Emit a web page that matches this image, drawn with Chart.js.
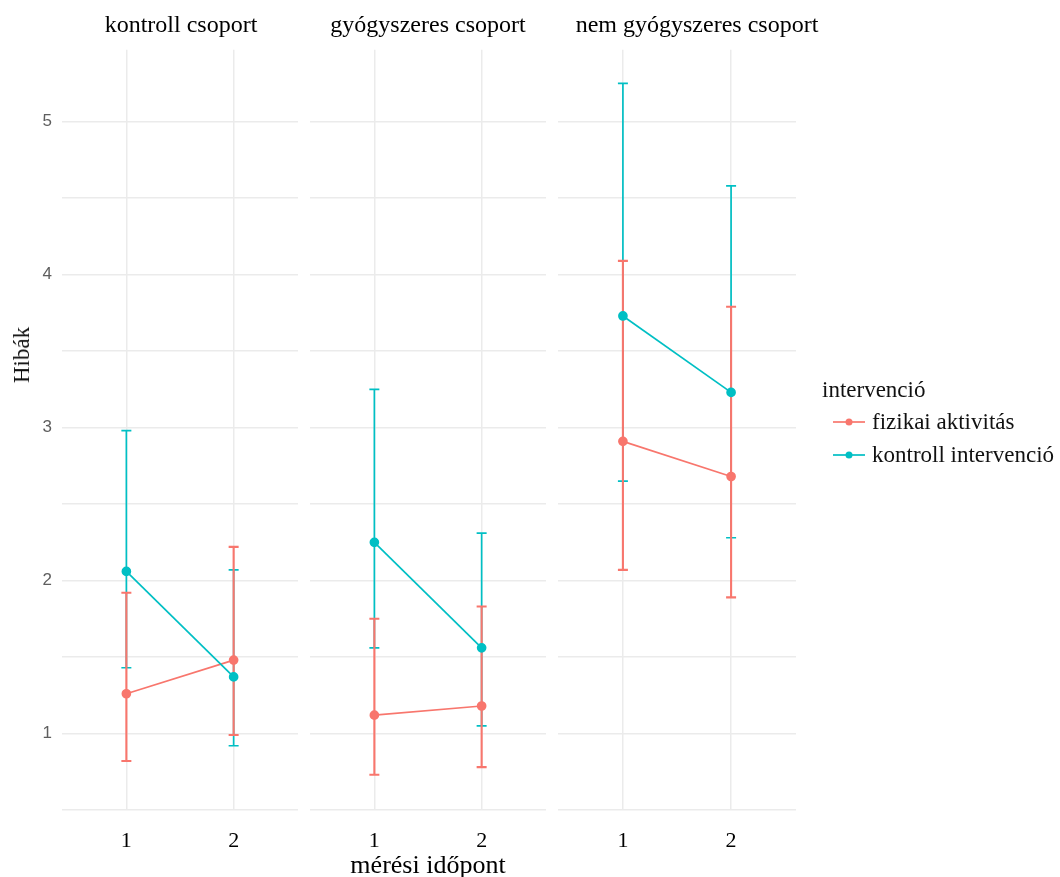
<!DOCTYPE html>
<html>
<head>
<meta charset="utf-8">
<script src="https://cdn.jsdelivr.net/npm/chart.js@4.4.0/dist/chart.umd.min.js"></script>
<style>
  body { margin: 0; background: #fff; }
  #wrap { position: relative; width: 1060px; height: 877px; overflow: hidden; }
  #wrap canvas { position: absolute; top: 0; }
  #legend { position: absolute; left: 822px; top: 375px; font-family: "Liberation Serif", serif; font-size: 23px; color: #111; }
  #legend .ttl { height: 30px; line-height: 30px; }
  #legend .item { height: 33px; display: flex; align-items: center; margin-left: 10px; }
  #legend svg { margin-right: 6px; }
  #ytitle { position: absolute; left: 22px; top: 355px; transform: translate(-50%, -50%) rotate(-90deg);
            font-family: "Liberation Serif", serif; font-size: 23px; color: #111; white-space: nowrap; }
</style>
</head>
<body>
<div id="wrap">
  <canvas id="p0" width="362" height="877" style="left:0px"></canvas>
  <canvas id="p1" width="236" height="877" style="left:310px"></canvas>
  <canvas id="p2" width="278" height="877" style="left:558px"></canvas>
  <div id="ytitle">Hibák</div>
  <div id="legend"></div>
</div>
<script>
// facets, time points, axis ticks
const panels = ['kontroll csoport', 'gyógyszeres csoport', 'nem gyógyszeres csoport'];
const timepoints = [1, 2];
const yTicks = [1, 2, 3, 4, 5];
const yGrid = [0.5, 1, 1.5, 2, 2.5, 3, 3.5, 4, 4.5, 5];

const seriesNames = ['fizikai aktivitás', 'kontroll intervenció'];
const seriesColors = ['#F8766D', '#00BFC4'];

// fizikai aktivitás: mean, lower, upper (one row per panel, one value per time point)
const fizMean = [[1.26, 1.48], [1.12, 1.18], [2.91, 2.68]];
const fizLow  = [[0.82, 0.99], [0.73, 0.78], [2.07, 1.89]];
const fizHigh = [[1.92, 2.22], [1.75, 1.83], [4.09, 3.79]];

// kontroll intervenció
const konMean = [[2.06, 1.37], [2.25, 1.56], [3.73, 3.23]];
const konLow  = [[1.43, 0.92], [1.56, 1.05], [2.65, 2.28]];
const konHigh = [[2.98, 2.07], [3.25, 2.31], [5.25, 4.58]];

const GRID = '#ebebeb';
const SERIF = '"Liberation Serif", serif';
// left axis width and spare room on the right of each panel (keeps strip titles where they are)
const leftW = [62, 0, 0];
const rightW = [64, 0, 40];

function meanData(arr) {
    return timepoints.map((t, i) => ({ x: t, y: arr[i] }));
}

function barData(lo, hi) {
    const out = [];
    timepoints.forEach((t, i) => {
        out.push({ x: t, y: lo[i] }, { x: t, y: hi[i] }, { x: t + 0.5, y: null });
    });
    return out;
}

function makePanel(id, p) {
    const ctx = document.getElementById(id).getContext('2d');
    // red bars are a bit wider so they cover the teal ones where both overlap
    const errStyle = (c, w, ord) => ({
        borderColor: c, backgroundColor: c, borderWidth: w,
        pointStyle: 'line', pointRadius: 5, pointBorderWidth: w,
        pointBorderColor: c, spanGaps: false, order: ord
    });
    return new Chart(ctx, {
        type: 'line',
        data: {
            datasets: [
                { label: seriesNames[1], data: meanData(konMean[p]), borderColor: seriesColors[1],
                  backgroundColor: seriesColors[1], borderWidth: 1.7, pointRadius: 4, order: 0 },
                { label: seriesNames[0], data: meanData(fizMean[p]), borderColor: seriesColors[0],
                  backgroundColor: seriesColors[0], borderWidth: 1.7, pointRadius: 4, order: 1 },
                Object.assign({ label: 'fiz err', data: barData(fizLow[p], fizHigh[p]) }, errStyle(seriesColors[0], 2.1, 2)),
                Object.assign({ label: 'kon err', data: barData(konLow[p], konHigh[p]) }, errStyle(seriesColors[1], 1.7, 3))
            ]
        },
        options: {
            responsive: false,
            animation: false,
            events: [],
            layout: { padding: 0, autoPadding: false },
            plugins: {
                legend: { display: false },
                tooltip: { enabled: false },
                title: { display: true, text: panels[p], color: '#000',
                         font: { family: SERIF, size: 24, weight: 'normal' },
                         padding: { top: 11, bottom: 10 } }
            },
            scales: {
                x: {
                    type: 'linear', position: 'bottom', min: 0.4, max: 2.6,
                    afterBuildTicks: s => { s.ticks = timepoints.map(v => ({ value: v })); },
                    afterFit: s => { s.height = 67; },
                    grid: { color: GRID, lineWidth: 1.5, drawTicks: false },
                    border: { display: false },
                    ticks: { font: { family: SERIF, size: 22 }, color: '#000', padding: 18, maxRotation: 0 },
                    title: { display: p === 1, text: 'mérési időpont', font: { family: SERIF, size: 26 },
                             color: '#000', padding: { top: 0, bottom: -5 } }
                },
                y: {
                    type: 'linear', min: 0.5, max: 5.47,
                    afterBuildTicks: s => { s.ticks = yGrid.map(v => ({ value: v })); },
                    afterFit: s => { s.width = leftW[p]; },
                    grid: { color: GRID, lineWidth: 1.5, drawTicks: false },
                    border: { display: false },
                    ticks: {
                        display: p === 0,
                        font: { family: '"Liberation Sans", sans-serif', size: 17 },
                        color: '#5e5e5e', padding: 10,
                        callback: v => yTicks.includes(v) ? String(v) : ''
                    }
                },
                spare: {
                    type: 'linear', position: 'right', display: rightW[p] > 0,
                    afterFit: s => { s.width = rightW[p]; },
                    grid: { display: false }, border: { display: false }, ticks: { display: false }
                }
            }
        }
    });
}

panels.forEach((name, p) => makePanel('p' + p, p));

// legend
const legend = document.getElementById('legend');
legend.innerHTML = '<div class="ttl">intervenció</div>' + seriesNames.map((n, i) =>
    '<div class="item"><svg width="34" height="20"><line x1="1" y1="10" x2="33" y2="10" stroke="' +
    seriesColors[i] + '" stroke-width="1.7"/><circle cx="17" cy="10" r="3.5" fill="' + seriesColors[i] +
    '"/></svg><span>' + n + '</span></div>').join('');
</script>
</body>
</html>
